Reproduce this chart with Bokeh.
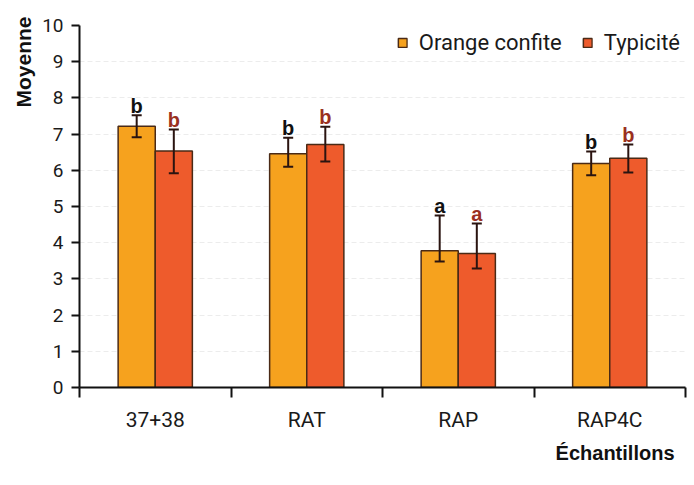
from bokeh.plotting import figure
from bokeh.models import (ColumnDataSource, FixedTicker, Whisker, TeeHead, Title,
                          Legend, LegendItem, Range1d)
from bokeh.core.properties import value
from bokeh.embed import file_html
from bokeh.resources import INLINE

categories = ["37+38", "RAT", "RAP", "RAP4C"]
orange_vals = [7.22, 6.46, 3.78, 6.19]
orange_lo = [6.91, 6.10, 3.48, 5.86]
orange_hi = [7.52, 6.90, 4.75, 6.52]
typ_vals = [6.53, 6.71, 3.70, 6.33]
typ_lo = [5.92, 6.24, 3.29, 5.94]
typ_hi = [7.13, 7.20, 4.53, 6.71]
orange_letters = ["b", "b", "a", "b"]
typ_letters = ["b", "b", "a", "b"]
y_ticks = list(range(0, 11))

ORANGE = "#F6A21E"
RED = "#EE5B2C"
OUTLINE = "#4a2a16"
ERR = "#2a1410"
LETTER_RED = "#9a3020"

bar_w = 0.245
letter_gap = 0.26
centers = [i + 0.5 for i in range(len(categories))]

src_o = ColumnDataSource(dict(
    x=[c - bar_w / 2 for c in centers], top=orange_vals, lo=orange_lo, hi=orange_hi,
    ly=[h + letter_gap for h in orange_hi], txt=orange_letters))
src_t = ColumnDataSource(dict(
    x=[c + bar_w / 2 for c in centers], top=typ_vals, lo=typ_lo, hi=typ_hi,
    ly=[h + letter_gap for h in typ_hi], txt=typ_letters))

p = figure(width=688, height=480, output_backend="svg", toolbar_location=None,
           x_range=Range1d(0, len(categories)), y_range=Range1d(0, 10),
           min_border_left=79, min_border_right=3, min_border_top=25,
           min_border_bottom=93)
p.outline_line_color = None
p.background_fill_color = "white"
p.border_fill_color = "white"

# grid
p.xgrid.grid_line_color = None
p.ygrid.ticker = FixedTicker(ticks=y_ticks[1:])
p.ygrid.grid_line_color = "#ececec"
p.ygrid.grid_line_dash = "5 3"
p.ygrid.grid_line_width = 1

r_o = p.vbar(x="x", top="top", width=bar_w, bottom=0, source=src_o,
             fill_color=ORANGE, line_color=OUTLINE, line_width=1.5)
r_t = p.vbar(x="x", top="top", width=bar_w, bottom=0, source=src_t,
             fill_color=RED, line_color=OUTLINE, line_width=1.5)

for src in (src_o, src_t):
    w = Whisker(base="x", lower="lo", upper="hi", source=src,
                line_color=ERR, line_width=2, level="overlay",
                upper_head=TeeHead(size=10, line_color=ERR, line_width=2),
                lower_head=TeeHead(size=10, line_color=ERR, line_width=2))
    p.add_layout(w)

p.text(x="x", y="ly", text="txt", source=src_o, text_align="center",
       text_baseline="alphabetic", text_font=value("Liberation Sans"),
       text_font_style="bold", text_font_size="20px", text_color="#111111")
p.text(x="x", y="ly", text="txt", source=src_t, text_align="center",
       text_baseline="alphabetic", text_font=value("Liberation Sans"),
       text_font_style="bold", text_font_size="20px", text_color=LETTER_RED)

# y axis
ya = p.yaxis[0]
ya.ticker = FixedTicker(ticks=y_ticks)
ya.axis_line_width = 2
ya.axis_line_color = "#111111"
ya.major_tick_line_width = 2
ya.major_tick_line_color = "#111111"
ya.major_tick_in = 0
ya.major_tick_out = 8
ya.minor_tick_line_color = None
ya.major_label_standoff = 8
ya.major_label_text_font = "Roboto"
ya.major_label_text_font_size = "19px"
ya.major_label_text_color = "#1a1a1a"

# x axis
xa = p.xaxis[0]
xa.ticker = FixedTicker(ticks=centers, minor_ticks=list(range(0, len(categories) + 1)))
xa.major_label_overrides = {c: lab for c, lab in zip(centers, categories)}
xa.axis_line_width = 2
xa.axis_line_color = "#111111"
xa.major_tick_line_color = None
xa.major_tick_in = 0
xa.major_tick_out = 0
xa.minor_tick_in = 0
xa.minor_tick_out = 10
xa.minor_tick_line_width = 2
xa.minor_tick_line_color = "#111111"
xa.major_label_standoff = 10
xa.major_label_text_font = "Roboto"
xa.major_label_text_font_size = "21px"
xa.major_label_text_color = "#1a1a1a"

# axis titles
p.add_layout(Title(text="Moyenne", align="right", text_font="Liberation Sans",
                   text_font_style="bold", text_font_size="21px",
                   text_color="#111111", offset=-9, standoff=9), "left")
p.add_layout(Title(text="Échantillons", align="right", text_font="Liberation Sans",
                   text_font_style="bold", text_font_size="20px",
                   text_color="#111111", offset=11, standoff=10), "below")

legend = Legend(items=[LegendItem(label="Orange confite", renderers=[r_o]),
                       LegendItem(label="Typicité", renderers=[r_t])],
                location="top_right", orientation="horizontal",
                margin=5, padding=6, spacing=20, label_standoff=11,
                glyph_width=11, glyph_height=11,
                border_line_color=None, background_fill_alpha=0,
                label_text_font="Roboto", label_text_font_size="22px",
                label_text_color="#1a1a1a")
p.add_layout(legend)

open("out.html", "w").write(file_html(p, INLINE))
